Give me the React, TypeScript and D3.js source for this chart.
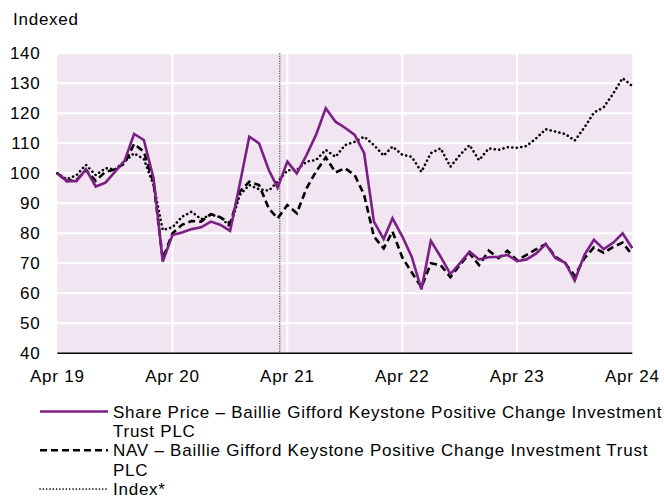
import React from 'react';
import * as d3 from 'd3';

// monthly values, Apr 2019 .. Apr 2024, rebased to 100
const sharePrice = [100, 97.4, 97.4, 101.3, 95.6, 96.9, 100.5, 104.2, 113.1, 111.1, 98.3, 70.6,
    79.4, 80.3, 81.4, 82, 83.9, 82.8, 80.8, 96.5, 112.2, 110, 101.1, 95.2,
    103.9, 100, 106.1, 112.8, 121.7, 117.2, 115.2, 112.8, 106.7, 83.9, 78.1, 85,
    79, 72.2, 61.3, 77.5, 72.2, 66.4, 70, 73.9, 71.3, 72, 72.2, 72.8,
    70.7, 71.3, 73.3, 76.4, 71.7, 70.2, 64.2, 72.8, 77.8, 74.7, 76.9, 80, 75];
const nav = [100, 97.4, 97.8, 101.1, 97.5, 100.5, 101.3, 103.3, 109.8, 107.2, 96.7, 71.5,
    80, 82.8, 84.1, 83.9, 86.4, 85.3, 83.3, 93.9, 97.2, 96.1, 88.3, 85,
    89.4, 86.7, 95, 100.6, 105.3, 100.3, 101.7, 99.4, 92.8, 78.9, 75, 80.6,
    72, 67, 62, 70, 69.4, 65.4, 69.4, 73.3, 69.4, 74.2, 71.7, 74.2,
    71, 72.8, 74.7, 76.4, 72.2, 70, 65.8, 71.7, 75.3, 73.5, 75.5, 76.9, 72.8];
const indexSeries = [100, 98, 99.4, 102.8, 99.4, 101.7, 101.3, 103.9, 106.7, 104.7, 96.1, 81.1,
    82, 85.5, 87.2, 84.7, 86.3, 85.3, 82.2, 92.8, 96.1, 94.7, 94.2, 97.2,
    101, 101.1, 103.9, 104.4, 107.8, 105.5, 109.4, 110.5, 112.2, 109.4, 105.9, 108.9,
    106.2, 105.5, 100.5, 106.7, 108.3, 102.2, 106.1, 109.4, 104.4, 108.3, 107.8, 108.7,
    108.5, 109.1, 111.7, 114.7, 113.9, 113.1, 110.9, 115.3, 120.2, 122, 126.7, 131.7, 129.1];

const startDate = new Date(2019, 3, 1);
const endDate = new Date(2024, 3, 1);
const months = d3.timeMonth.range(startDate, d3.timeMonth.offset(endDate, 1));
const markerDate = new Date(2021, 2, 8); // mandate change
const yTicks = [40, 50, 60, 70, 80, 90, 100, 110, 120, 130, 140];
const xTickLabels = ['Apr 19', 'Apr 20', 'Apr 21', 'Apr 22', 'Apr 23', 'Apr 24'];
const legendItems = [
    {lines: ['Share Price \u2013 Baillie Gifford Keystone Positive Change Investment', 'Trust PLC'], key: 'share'},
    {lines: ['NAV \u2013 Baillie Gifford Keystone Positive Change Investment Trust', 'PLC'], key: 'nav'},
    {lines: ['Index*'], key: 'index'},
];

const PURPLE = '#7b1f87';
const FONT = '"Liberation Sans", Arial, Helvetica, sans-serif';

const styles = {
    share: {stroke: PURPLE, width: 2.6, dash: null, cap: 'butt'},
    nav: {stroke: '#000', width: 2.6, dash: '7,4', cap: 'butt'},
    index: {stroke: '#000', width: 2.6, dash: '0.1,4.4', cap: 'round'},
};

export default class App extends React.Component {
    svgRef = React.createRef<SVGSVGElement>();

    componentDidMount() {
        document.body.style.margin = '0';
        this.drawChart();
    }

    drawChart() {
        let svg = d3.select(this.svgRef.current);
        svg.selectAll('*').remove();

        let left = 57.3, right = 632.3, top = 53.3, bottom = 353.3;
        let xScale = d3.scaleTime().domain([startDate, endDate]).range([left, right]);
        let yScale = d3.scaleLinear().domain([40, 140]).range([bottom, top]);
        let yearTicks = xTickLabels.map((l, i) => d3.timeYear.offset(startDate, i));

        svg.append('rect')
            .attr('x', left).attr('y', top)
            .attr('width', right - left).attr('height', bottom - top)
            .attr('fill', '#f0e5f0');

        // gridlines
        svg.append('g')
            .selectAll('line')
            .data(yTicks.filter(d => d > 40))
            .join('line')
            .attr('x1', left).attr('x2', right)
            .attr('y1', d => yScale(d)).attr('y2', d => yScale(d))
            .attr('stroke', '#fff').attr('stroke-width', 2);
        svg.append('g')
            .selectAll('line')
            .data(yearTicks.slice(1, -1))
            .join('line')
            .attr('x1', d => xScale(d)).attr('x2', d => xScale(d))
            .attr('y1', top).attr('y2', bottom)
            .attr('stroke', '#fff').attr('stroke-width', 2);

        // marker line
        svg.append('line')
            .attr('x1', xScale(markerDate)).attr('x2', xScale(markerDate))
            .attr('y1', top).attr('y2', bottom)
            .attr('stroke', '#000').attr('stroke-width', 1)
            .attr('stroke-dasharray', '1,1.5');

        let line = d3.line<number>()
            .x((d, i) => xScale(months[i]))
            .y(d => yScale(d));

        let series = [
            {key: 'index', values: indexSeries},
            {key: 'nav', values: nav},
            {key: 'share', values: sharePrice},
        ];
        series.forEach(s => {
            let st = styles[s.key];
            svg.append('path')
                .datum(s.values)
                .attr('d', line)
                .attr('fill', 'none')
                .attr('stroke', st.stroke)
                .attr('stroke-width', st.width)
                .attr('stroke-linejoin', 'miter')
                .attr('stroke-linecap', st.cap)
                .attr('stroke-dasharray', st.dash);
        });

        // axis line
        svg.append('line')
            .attr('x1', left).attr('x2', right)
            .attr('y1', bottom).attr('y2', bottom)
            .attr('stroke', '#000').attr('stroke-width', 1.5);

        let text = svg.append('g')
            .attr('font-family', FONT)
            .attr('font-size', 17)
            .attr('letter-spacing', 0.75)
            .attr('fill', '#000');

        text.append('text')
            .attr('x', 13).attr('y', 25)
            .text('Indexed');

        text.append('g')
            .selectAll('text')
            .data(yTicks)
            .join('text')
            .attr('x', 40.5)
            .attr('y', d => yScale(d) + 6)
            .attr('text-anchor', 'end')
            .text(d => d);

        text.append('g')
            .selectAll('text')
            .data(yearTicks)
            .join('text')
            .attr('x', d => xScale(d))
            .attr('y', 381.5)
            .attr('text-anchor', 'middle')
            .text((d, i) => xTickLabels[i]);

        // legend
        let rowH = 19.4;
        let y0 = 417.5;
        let row = 0;
        legendItems.forEach(item => {
            let st = styles[item.key];
            let baseY = y0 + row * rowH;
            svg.append('line')
                .attr('x1', 40).attr('x2', 108)
                .attr('y1', baseY - 6).attr('y2', baseY - 6)
                .attr('stroke', st.stroke)
                .attr('stroke-width', item.key === 'index' ? 1.6 : st.width)
                .attr('stroke-linecap', st.cap)
                .attr('stroke-dasharray', item.key === 'index' ? '0.1,3.2' : st.dash);
            item.lines.forEach((l, j) => {
                text.append('text')
                    .attr('x', 113)
                    .attr('y', baseY + j * rowH)
                    .text(l);
            });
            row += item.lines.length;
        });
    }

    render() {
        return (
            <svg ref={this.svgRef} width={664} height={499} style={{display: 'block'}}/>
        );
    }
}
